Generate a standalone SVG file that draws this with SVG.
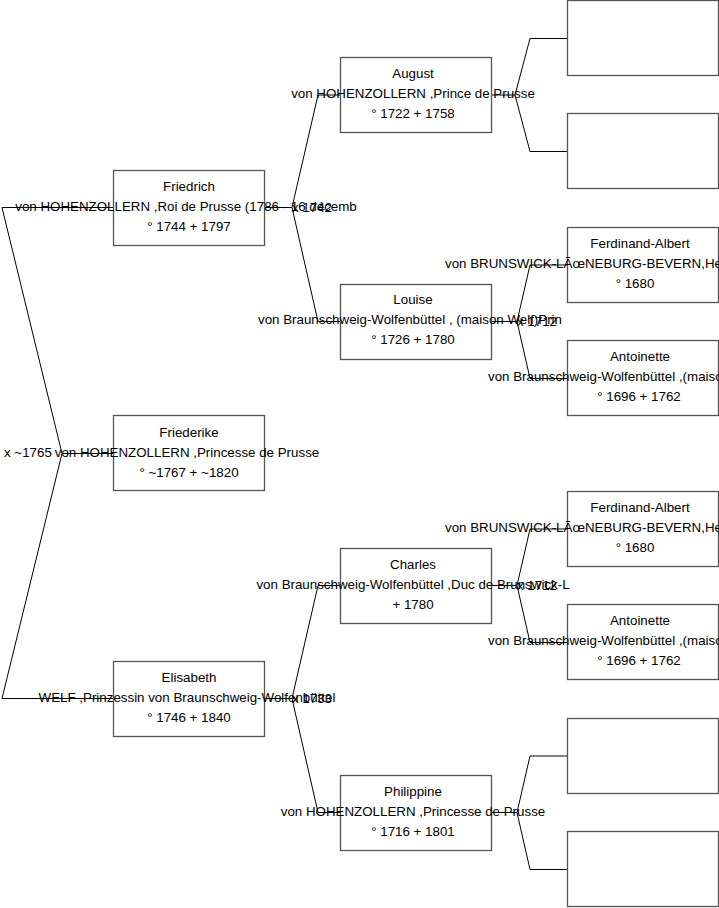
<svg xmlns="http://www.w3.org/2000/svg" width="719" height="908" viewBox="0 0 719 908">
<style>
rect.box{fill:none;stroke:#555;stroke-width:1.3}
text{font-family:"Liberation Sans",Arial,sans-serif;font-size:13.33px;fill:#000}
.c{text-anchor:middle}
.conn path{fill:none;stroke:#000;stroke-width:1}
</style>
<rect width="719" height="908" fill="#fff"/>
<g id="connectors" class="conn">
<path d="M113,453.5 H62 L2,207.5 H113 M62,453.5 L2,698.5 H113"/>
<path d="M264,207.5 H292 L318,95 H340 M292,207.5 L318,321.5 H340"/>
<path d="M264,698.5 H292 L318,585.5 H340 M292,698.5 L318,812.5 H340"/>
<path d="M491,95 H515 L530,38.5 H567 M515,95 L530,151.5 H567"/>
<path d="M491,321.5 H517 L530,265 H567 M517,321.5 L530,378.5 H567"/>
<path d="M491,585.5 H517 L530,529 H567 M517,585.5 L530,642.5 H567"/>
<path d="M491,812.5 H517 L530,756 H567 M517,812.5 L530,869.5 H567"/>
</g>
<g id="marriages">
<text x="4" y="457">x ~1765</text>
<text x="292" y="212">x 1742</text>
<text x="517" y="326">x 1712</text>
<text x="292" y="703">x 1733</text>
<text x="517" y="590">x 1712</text>
</g>
<g id="friedrich"><rect class="box" x="113.5" y="170.5" width="151" height="75"/>
<text class="c" x="189" y="191">Friedrich</text>
<text class="c" x="186" y="211">von HOHENZOLLERN ,Roi de Prusse (1786 - 16 décemb</text>
<text class="c" x="189" y="231">° 1744 + 1797</text></g>
<g id="friederike"><rect class="box" x="113.5" y="415.5" width="151" height="75"/>
<text class="c" x="189" y="437">Friederike</text>
<text class="c" x="187" y="457">von HOHENZOLLERN ,Princesse de Prusse</text>
<text class="c" x="189" y="477">° ~1767 + ~1820</text></g>
<g id="elisabeth"><rect class="box" x="113.5" y="661.5" width="151" height="75"/>
<text class="c" x="189" y="682">Elisabeth</text>
<text class="c" x="187" y="702">WELF ,Prinzessin von Braunschweig-Wolfenbüttel</text>
<text class="c" x="189" y="722">° 1746 + 1840</text></g>
<g id="august"><rect class="box" x="340.5" y="57.5" width="151" height="75"/>
<text class="c" x="413" y="78">August</text>
<text class="c" x="413" y="98">von HOHENZOLLERN ,Prince de Prusse</text>
<text class="c" x="413" y="118">° 1722 + 1758</text></g>
<g id="louise"><rect class="box" x="340.5" y="284.5" width="151" height="75"/>
<text class="c" x="413" y="304">Louise</text>
<text class="c" x="410" y="324">von Braunschweig-Wolfenbüttel , (maison Welf)Prin</text>
<text class="c" x="413" y="344">° 1726 + 1780</text></g>
<g id="charles"><rect class="box" x="340.5" y="548.5" width="151" height="75"/>
<text class="c" x="413" y="569">Charles</text>
<text class="c" x="413" y="589">von Braunschweig-Wolfenbüttel ,Duc de Brunswick-L</text>
<text class="c" x="413" y="609">+ 1780</text></g>
<g id="philippine"><rect class="box" x="340.5" y="775.5" width="151" height="75"/>
<text class="c" x="413" y="796">Philippine</text>
<text class="c" x="413" y="816">von HOHENZOLLERN ,Princesse de Prusse</text>
<text class="c" x="413" y="836">° 1716 + 1801</text></g>
<g id="empty1"><rect class="box" x="567.5" y="0.5" width="151" height="75"/></g>
<g id="empty2"><rect class="box" x="567.5" y="113.5" width="151" height="75"/></g>
<g id="ferdinand1"><rect class="box" x="567.5" y="227.5" width="151" height="75"/>
<text class="c" x="640" y="248">Ferdinand-Albert</text>
<text x="445" y="268">von BRUNSWICK-LÃœNEBURG-BEVERN,He</text>
<text class="c" x="635" y="288">° 1680</text></g>
<g id="antoinette1"><rect class="box" x="567.5" y="340.5" width="151" height="75"/>
<text class="c" x="640" y="361">Antoinette</text>
<text x="488" y="381">von Braunschweig-Wolfenbüttel ,(maiso</text>
<text class="c" x="639" y="401">° 1696 + 1762</text></g>
<g id="ferdinand2"><rect class="box" x="567.5" y="491.5" width="151" height="75"/>
<text class="c" x="640" y="512">Ferdinand-Albert</text>
<text x="445" y="532">von BRUNSWICK-LÃœNEBURG-BEVERN,He</text>
<text class="c" x="635" y="552">° 1680</text></g>
<g id="antoinette2"><rect class="box" x="567.5" y="604.5" width="151" height="75"/>
<text class="c" x="640" y="625">Antoinette</text>
<text x="488" y="645">von Braunschweig-Wolfenbüttel ,(maiso</text>
<text class="c" x="639" y="665">° 1696 + 1762</text></g>
<g id="empty3"><rect class="box" x="567.5" y="718.5" width="151" height="75"/></g>
<g id="empty4"><rect class="box" x="567.5" y="831.5" width="151" height="75"/></g>
</svg>
